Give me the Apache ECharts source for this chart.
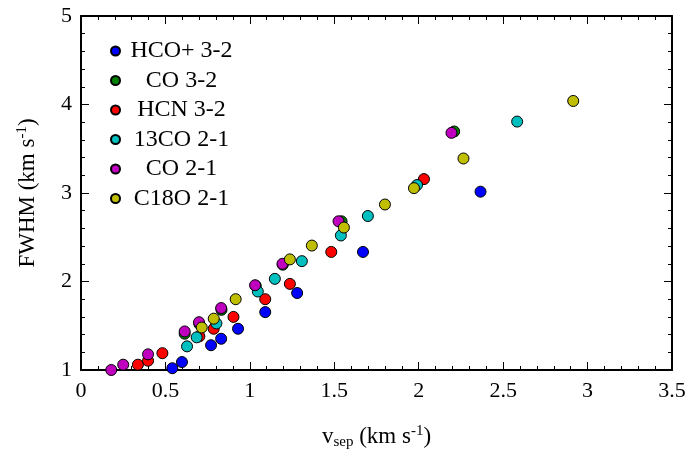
<!DOCTYPE html>
<html>
<head>
<meta charset="utf-8">
<script src="https://cdn.jsdelivr.net/npm/echarts@6/dist/echarts.min.js"></script>
<style>
  body { margin: 0; background: #fff; }
  #main { width: 696px; height: 457px; }
</style>
</head>
<body>
<div id="main"></div>
<script>
// data: [vsep, FWHM]
var hcoData = [[0.541, 1.02], [0.598, 1.09], [0.770, 1.28], [0.830, 1.353], [0.930, 1.466], [1.091, 1.654], [1.280, 1.87], [1.670, 2.334], [2.366, 3.015]];
var co32Data = [[0.614, 1.41], [0.701, 1.52], [0.832, 1.68], [1.035, 1.95], [1.195, 2.19], [1.543, 2.68], [2.21, 3.695]];
var hcnData = [[0.337, 1.06], [0.397, 1.105], [0.482, 1.19], [0.701, 1.38], [0.786, 1.466], [0.903, 1.60], [1.091, 1.80], [1.237, 1.973], [1.482, 2.334], [2.031, 3.157]];
var co13Data = [[0.628, 1.267], [0.685, 1.369], [0.802, 1.526], [1.047, 1.887], [1.148, 2.03], [1.308, 2.23], [1.539, 2.52], [1.699, 2.74], [1.99, 3.09], [2.583, 3.807]];
var co21Data = [[0.179, 1.00], [0.250, 1.06], [0.397, 1.177], [0.614, 1.436], [0.699, 1.54], [0.830, 1.70], [1.031, 1.958], [1.193, 2.20], [1.525, 2.68], [2.194, 3.68]];
var c18oData = [[0.715, 1.48], [0.786, 1.58], [0.916, 1.80], [1.237, 2.25], [1.367, 2.406], [1.557, 2.61], [1.80, 2.87], [1.972, 3.055], [2.265, 3.39], [2.915, 4.04]];

var seriesNames = ["HCO+ 3-2", "CO 3-2", "HCN 3-2", "13CO 2-1", "CO 2-1", "C18O 2-1"];
var seriesColors = ["#0000ff", "#008000", "#ff0000", "#00bfbf", "#bf00bf", "#bfbf00"];
var seriesData = [hcoData, co32Data, hcnData, co13Data, co21Data, c18oData];

var xMin = 0, xMax = 3.5, xStep = 0.5;
var yMin = 1, yMax = 5, yStep = 1;

var font = "Liberation Serif";

var myChart = echarts.init(document.getElementById("main"));

// axis frame: ticks inside on all four sides
function frameAxis(extra) {
  return Object.assign({
    type: "value",
    axisLine: { show: true, onZero: false, lineStyle: { color: "#000", width: 2 } },
    axisTick: { show: true, inside: true, length: 8, lineStyle: { color: "#000", width: 1 } },
    minorTick: { show: true, splitNumber: 5, length: 4, lineStyle: { color: "#000", width: 1 } },
    splitLine: { show: false },
    axisLabel: { show: false }
  }, extra);
}

var series = seriesNames.map(function (name, i) {
  return {
    name: name,
    type: "scatter",
    data: seriesData[i],
    symbol: "circle",
    symbolSize: 11,
    itemStyle: { color: seriesColors[i], borderColor: "#000", borderWidth: 1, opacity: 1 },
    emphasis: { disabled: true }
  };
});

var option = {
  animation: false,
  backgroundColor: "#fff",
  grid: { left: 81, right: 24, top: 16, bottom: 87, containLabel: false },
  legend: {
    orient: "vertical",
    left: 105,
    top: 34,
    icon: "circle",
    itemWidth: 9,
    itemHeight: 9,
    itemGap: 5.5,
    data: seriesNames,
    formatter: function (name) { return "{a|" + name + "}"; },
    textStyle: {
      rich: {
        a: { fontFamily: font, fontSize: 24, color: "#000", width: 113, height: 24, lineHeight: 24, align: "center" }
      }
    }
  },
  xAxis: [
    frameAxis({
      min: xMin, max: xMax, interval: xStep, position: "bottom",
      axisLabel: { show: true, margin: 10, fontFamily: font, fontSize: 22, color: "#000" },
      name: "{t|v}{sub|sep}{t| (km s}{sup|-1}{t|)}",
      nameLocation: "middle",
      nameGap: 52,
      nameTextStyle: {
        rich: {
          t: { fontFamily: font, fontSize: 23, color: "#000", lineHeight: 30 },
          sub: { fontFamily: font, fontSize: 15, color: "#000", padding: [10, 0, 0, 0], lineHeight: 30 },
          sup: { fontFamily: font, fontSize: 15, color: "#000", padding: [0, 0, 12, 0], lineHeight: 30 }
        }
      }
    }),
    frameAxis({ min: xMin, max: xMax, interval: xStep, position: "top" })
  ],
  yAxis: [
    frameAxis({
      min: yMin, max: yMax, interval: yStep, position: "left",
      axisLabel: { show: true, margin: 9, fontFamily: font, fontSize: 22, color: "#000" },
      name: "{t|FWHM (km s}{sup|-1}{t|)}",
      nameLocation: "middle",
      nameGap: 38,
      nameRotate: 90,
      nameTextStyle: {
        rich: {
          t: { fontFamily: font, fontSize: 23, color: "#000", lineHeight: 30 },
          sup: { fontFamily: font, fontSize: 15, color: "#000", padding: [0, 0, 12, 0], lineHeight: 30 }
        }
      }
    }),
    frameAxis({ min: yMin, max: yMax, interval: yStep, position: "right" })
  ],
  series: series
};

myChart.setOption(option);
</script>
</body>
</html>
